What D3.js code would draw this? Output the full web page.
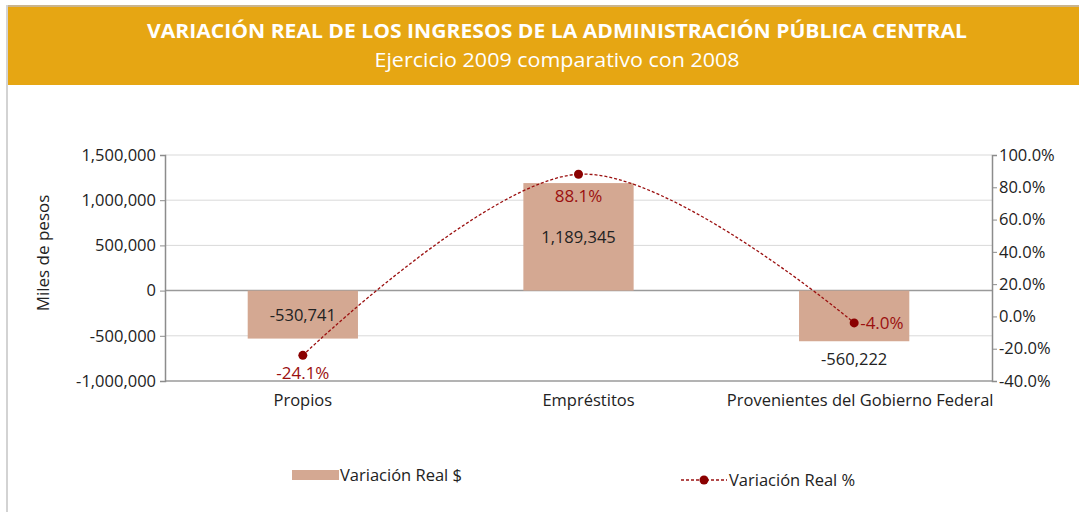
<!DOCTYPE html>
<html>
<head>
<meta charset="utf-8">
<script src="https://cdn.jsdelivr.net/npm/d3@7"></script>
<style>
  body { margin: 0; background: #fff; }
  svg { display: block; font-family: "Open Sans", sans-serif; }
</style>
</head>
<body>
<svg id="chart" width="1079" height="512"></svg>
<script>
// datos
var categorias = ["Propios", "Empréstitos", "Provenientes del Gobierno Federal"];
var variacionPesos = [-530741, 1189345, -560222];
var variacionPct = [-24.1, 88.1, -4.0];
var ticksIzq = [-1000000, -500000, 0, 500000, 1000000, 1500000];
var ticksDer = [-40, -20, 0, 20, 40, 60, 80, 100];

(function () {
'use strict';

var svg = d3.select("#chart");
var W = 1079, H = 512;
var FS = 16.5;

// marco y encabezado
svg.append("rect").attr("x", 6).attr("y", 5).attr("width", W - 6).attr("height", 2).attr("fill", "#c9b48e");
svg.append("rect").attr("x", 6).attr("y", 5).attr("width", 2).attr("height", H).attr("fill", "#d3d3d3");
svg.append("rect").attr("x", 8).attr("y", 7).attr("width", W - 8).attr("height", 78).attr("fill", "#e6a613");

svg.append("text")
    .attr("x", 557).attr("y", 38)
    .attr("text-anchor", "middle")
    .attr("fill", "#fff")
    .attr("font-size", 20)
    .attr("font-weight", "bold")
    .attr("textLength", 820)
    .attr("lengthAdjust", "spacingAndGlyphs")
    .text("VARIACIÓN REAL DE LOS INGRESOS DE LA ADMINISTRACIÓN PÚBLICA CENTRAL");

svg.append("text")
    .attr("x", 557).attr("y", 67)
    .attr("text-anchor", "middle")
    .attr("fill", "#fff")
    .attr("font-size", 20)
    .attr("textLength", 365)
    .attr("lengthAdjust", "spacingAndGlyphs")
    .text("Ejercicio 2009 comparativo con 2008");

// escalas
var pLeft = 165, pRight = 992, pTop = 155, pBottom = 381;
var x = d3.scaleBand().domain(categorias).range([pLeft, pRight]).paddingInner(0.6).paddingOuter(0.3);
var xc = function (c) { return x(c) + x.bandwidth() / 2; };
var y = d3.scaleLinear().domain([-1000000, 1500000]).range([pBottom, pTop]);
var y2 = d3.scaleLinear().domain([-40, 100]).range([pBottom, pTop]);

// rejilla
svg.append("g")
    .selectAll("line")
    .data(ticksIzq)
    .enter().append("line")
    .attr("x1", pLeft).attr("x2", pRight)
    .attr("y1", function (d) { return y(d); })
    .attr("y2", function (d) { return y(d); })
    .attr("stroke", function (d) { return (d === 0 || d === -1000000) ? "#9a9a9a" : "#d9d9d9"; })
    .attr("stroke-width", function (d) { return (d === 0 || d === -1000000) ? 1.5 : 1; });

// ejes
var fmt = function (d) { return d3.format(",")(d).replace("\u2212", "-"); };
var pct = function (d) { return d.toFixed(1) + "%"; };
var ejeIzq = svg.append("g")
    .attr("transform", "translate(" + pLeft + ",0)")
    .call(d3.axisLeft(y).tickValues(ticksIzq).tickSize(5).tickPadding(4).tickFormat(fmt));
var ejeDer = svg.append("g")
    .attr("transform", "translate(" + pRight + ",0)")
    .call(d3.axisRight(y2).tickValues(ticksDer).tickSize(5).tickPadding(2).tickFormat(pct));

[ejeIzq, ejeDer].forEach(function (g) {
    g.select(".domain").attr("stroke", "#8c8c8c").attr("stroke-width", 1.5);
    g.selectAll(".tick line").attr("stroke", "#8c8c8c");
    g.selectAll(".tick text").attr("fill", "#222").attr("font-size", FS)
        .attr("font-family", "'Open Sans', sans-serif");
});

svg.append("text")
    .attr("transform", "translate(49,253) rotate(-90)")
    .attr("text-anchor", "middle")
    .attr("font-size", 17)
    .attr("fill", "#222")
    .text("Miles de pesos");

// categorias (Excel las deja un poco corridas a la derecha)
var dxCat = [0, 10, 6];
svg.append("g")
    .selectAll("text")
    .data(categorias)
    .enter().append("text")
    .attr("x", function (d, i) { return xc(d) + dxCat[i]; })
    .attr("y", 406)
    .attr("text-anchor", "middle")
    .attr("font-size", FS)
    .attr("fill", "#222")
    .text(function (d) { return d; });

// barras
svg.append("g")
    .selectAll("rect")
    .data(variacionPesos)
    .enter().append("rect")
    .attr("x", function (d, i) { return x(categorias[i]); })
    .attr("width", x.bandwidth())
    .attr("y", function (d) { return Math.min(y(d), y(0)); })
    .attr("height", function (d) { return Math.abs(y(d) - y(0)); })
    .attr("fill", "#d4a892");

// etiquetas de barras
var posPesos = [0.5, 0.5, 1.35];
svg.append("g")
    .selectAll("text")
    .data(variacionPesos)
    .enter().append("text")
    .attr("x", function (d, i) { return xc(categorias[i]); })
    .attr("y", function (d, i) { return y(d * posPesos[i]) + 6; })
    .attr("text-anchor", "middle")
    .attr("font-size", FS)
    .attr("fill", "#222")
    .text(function (d) { return fmt(d); });

// linea
var puntos = variacionPct.map(function (v, i) { return [xc(categorias[i]), y2(v)]; });
var linea = d3.line().curve(d3.curveCardinal.tension(0));
svg.append("path")
    .attr("d", linea(puntos))
    .attr("fill", "none")
    .attr("stroke", "#9b1010")
    .attr("stroke-width", 1.3)
    .attr("stroke-dasharray", "3,2");

svg.append("g")
    .selectAll("circle")
    .data(puntos)
    .enter().append("circle")
    .attr("cx", function (d) { return d[0]; })
    .attr("cy", function (d) { return d[1]; })
    .attr("r", 4.5)
    .attr("fill", "#8b0000");

// etiquetas de porcentaje
var dxPct = [0, 0, 6], dyPct = [24, 28, 6], anclaPct = ["middle", "middle", "start"];
svg.append("g")
    .selectAll("text")
    .data(variacionPct)
    .enter().append("text")
    .attr("x", function (d, i) { return puntos[i][0] + dxPct[i]; })
    .attr("y", function (d, i) { return puntos[i][1] + dyPct[i]; })
    .attr("text-anchor", function (d, i) { return anclaPct[i]; })
    .attr("font-size", 17)
    .attr("fill", "#9b1010")
    .text(function (d) { return pct(d); });

// leyenda
svg.append("rect").attr("x", 292).attr("y", 470).attr("width", 47).attr("height", 10).attr("fill", "#d4a892");
svg.append("text").attr("x", 340).attr("y", 481).attr("font-size", FS).attr("fill", "#222").text("Variación Real $");

svg.append("line").attr("x1", 681).attr("x2", 727).attr("y1", 480).attr("y2", 480)
    .attr("stroke", "#9b1010").attr("stroke-width", 1.3).attr("stroke-dasharray", "3,2");
svg.append("circle").attr("cx", 704).attr("cy", 480).attr("r", 4.5).attr("fill", "#8b0000");
svg.append("text").attr("x", 729).attr("y", 486).attr("font-size", FS).attr("fill", "#222").text("Variación Real %");
})();
</script>
</body>
</html>
